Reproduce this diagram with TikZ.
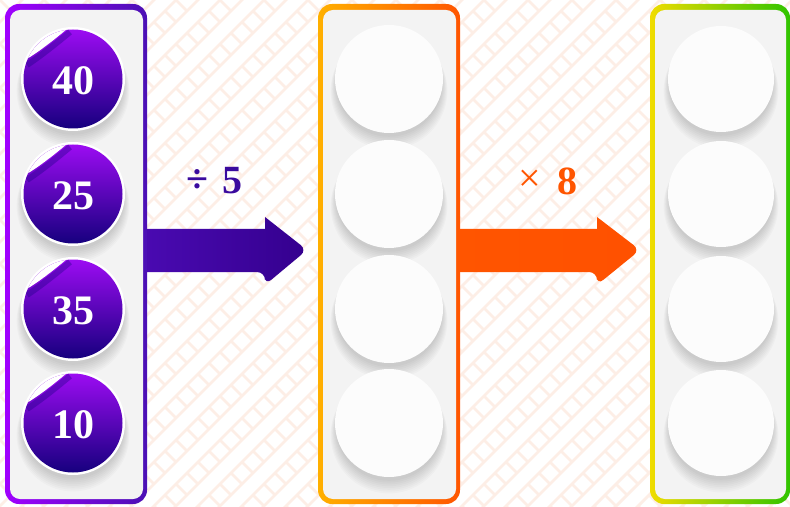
\documentclass[tikz,border=0pt]{standalone}
\usepackage{fontspec}
\setmainfont{Liberation Serif}
\usetikzlibrary{calc, positioning}
\definecolor{brick}{HTML}{FDEEE6}
\definecolor{panelbg}{HTML}{F3F3F3}
\definecolor{discbg}{HTML}{FCFCFC}
\definecolor{violetL}{HTML}{A000FF}
\definecolor{violetR}{HTML}{4B10B4}
\definecolor{orangeL}{HTML}{FFB000}
\definecolor{orangeR}{HTML}{FF5500}
\definecolor{greenL}{HTML}{F0DC00}
\definecolor{greenR}{HTML}{30C400}
\definecolor{discT}{HTML}{9C0CF2}
\definecolor{discB}{HTML}{16007E}
\definecolor{arrowP}{HTML}{4A0AB2}
\definecolor{arrowPd}{HTML}{34008E}
\definecolor{arrowO}{HTML}{FF5500}
\definecolor{labelP}{HTML}{3A0A9E}

\tikzset{
  numtxt/.style={text=white, font=\fontsize{21}{21}\selectfont\bfseries},
  optxt/.style={font=\fontsize{20}{20}\selectfont},
  opnum/.style={font=\fontsize{20}{20}\selectfont\bfseries},
  discshadow/.style={black, opacity=0.018},
}

\begin{document}
\begin{tikzpicture}[x=0.5pt, y=-0.5pt]
  \useasboundingbox (0,0) rectangle (790,507);
  \fill[white] (0,0) rectangle (790,507);

  % brick background
  \begin{scope}
    \clip (0,0) rectangle (790,507);
    \foreach \k in {0,...,62}
      \draw[brick, line width=1.4pt] (22*\k+10,-10) -- ++(-580,580);
    \foreach \m [evaluate=\m as \ph using {mod(\m+30,2)*7.78}] in {-24,...,36}
      \draw[brick, line width=1.4pt, dash pattern=on 7.78pt off 7.78pt, dash phase=\ph pt]
        (22*\m-22,-22) -- ++(580,580);
  \end{scope}

  % arrows
  \coordinate (divfrom) at (140,250);
  \coordinate (divto) at (307,250);
  \coordinate (mulfrom) at (452,250);
  \coordinate (multo) at (640,250);
  \shade[left color=arrowP, right color=arrowPd]
    ($(divfrom)+(0,-21)$) -- ($(divto)+(-42,-21)$) -- ($(divto)+(-42,-33)$)
    [rounded corners=4pt] -- (divto) -- ($(divto)+(-42,35)$) -- ($(divto)+(-42,22)$)
    [sharp corners] -- ($(divfrom)+(0,22)$) -- cycle;
  \shade[left color=arrowO, right color=arrowO!95!red]
    ($(mulfrom)+(0,-21)$) -- ($(multo)+(-43,-21)$) -- ($(multo)+(-43,-33)$)
    [rounded corners=4pt] -- (multo) -- ($(multo)+(-43,35)$) -- ($(multo)+(-43,22)$)
    [sharp corners] -- ($(mulfrom)+(0,22)$) -- cycle;

  \node[opnum, text=labelP] (divsign) at (197,181) {÷};
  \node[opnum, text=labelP] (divnum) at (232,181) {5};
  \node[optxt, text=arrowO] (mulsign) at (530,181) {×};
  \node[opnum, text=arrowO] (mulnum) at (567,181) {8};

  % panels
  \foreach \xl/\xr/\cl/\cr in {5/147/violetL/violetR, 318/460/orangeL/orangeR, 650/790/greenL/greenR} {
    \shade[left color=\cl, right color=\cr, rounded corners=7pt] (\xl,4) rectangle (\xr,504);
    \fill[panelbg, rounded corners=5pt] (\xl+5,10) rectangle (\xr-4,499);
  }

  % numbered stickers
  \foreach \cy/\num in {79/40, 194/25, 309/35, 423/10} {
    \foreach \i in {1,...,8}
      \fill[discshadow] (73,\cy+4+\i) circle (50+0.8*\i);
    \fill[white] (73,\cy) circle (52);
    \shade[top color=discT, bottom color=discB] (73,\cy) circle (49.5);
    \begin{scope}
      \clip (73,\cy) circle (49.5);
      \draw[discB, opacity=0.35, line width=3pt]
        (70,\cy-47) .. controls (58,\cy-37) and (42,\cy-24) .. (27,\cy-14);
      \fill[white] (67,\cy-50) .. controls (55,\cy-40) and (39,\cy-27) .. (25,\cy-19)
        -- (15,\cy-60) -- cycle;
    \end{scope}
    \node[numtxt] (n\num) at (73,\cy+2) {\num};
  }

  % empty discs
  \foreach \cx/\r in {389/54, 721/53} {
    \foreach \cy in {79, 194, 309, 423} {
      \foreach \i in {1,...,8}
        \fill[discshadow] (\cx,\cy+4+\i) circle (\r-2+0.8*\i);
      \fill[discbg] (\cx,\cy) circle (\r);
    }
  }
\end{tikzpicture}
\end{document}
